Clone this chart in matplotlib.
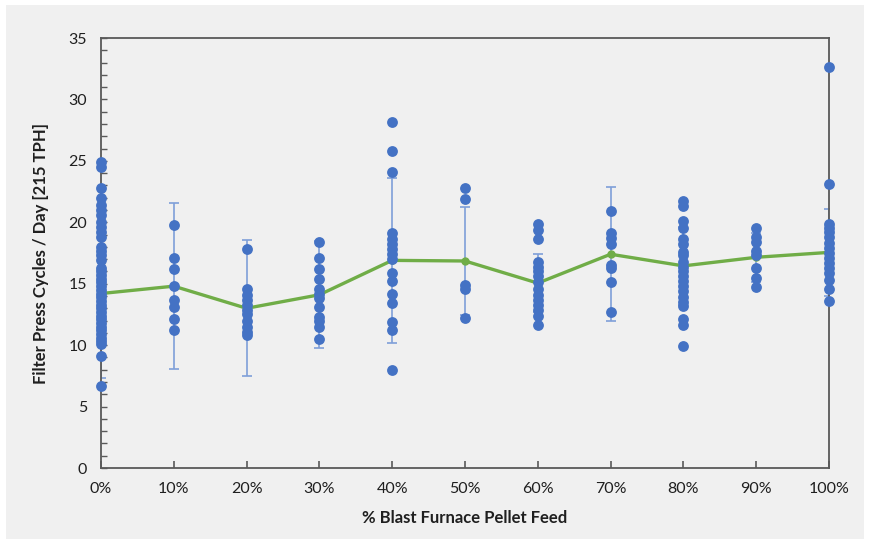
import matplotlib
matplotlib.use("Agg")
import matplotlib.pyplot as plt
from matplotlib.patches import Rectangle
from matplotlib.ticker import MultipleLocator

# ---- data ----
feed_pct = [0, 10, 20, 30, 40, 50, 60, 70, 80, 90, 100]
tick_labels = ["0%", "10%", "20%", "30%", "40%", "50%", "60%", "70%", "80%", "90%", "100%"]
mean_cycles = [14.2, 14.8, 13.0, 14.1, 16.9, 16.85, 15.05, 17.4, 16.45, 17.15, 17.55]
err_cycles = [6.84, 6.73, 5.53, 4.37, 6.74, 4.42, 2.39, 5.47, 3.2, 2.0, 3.53]

pts_0 = [24.9, 24.5, 22.8, 22.0, 21.4, 21.0, 20.6, 20.0, 19.6, 19.2, 18.8, 18.0, 17.7,
         17.3, 16.9, 16.3, 16.0, 15.7, 15.4, 15.1, 14.8, 14.5, 14.2, 13.9, 13.6, 13.3,
         13.0, 12.7, 12.4, 12.1, 11.8, 11.5, 11.2, 10.9, 10.6, 10.3, 10.1, 9.1, 6.7]
pts_10 = [19.8, 17.1, 16.2, 14.8, 13.7, 13.1, 12.1, 11.2]
pts_20 = [17.8, 14.6, 14.1, 13.7, 13.3, 12.9, 12.5, 12.0, 11.5, 11.1, 10.8]
pts_30 = [18.4, 17.1, 16.2, 15.4, 14.6, 14.2, 13.8, 13.1, 12.3, 12.0, 11.5, 10.5]
pts_40 = [28.2, 25.8, 24.1, 19.1, 18.6, 18.2, 17.8, 17.4, 17.0, 15.9, 15.2, 14.2,
          13.4, 11.9, 11.2, 8.0]
pts_50 = [22.8, 21.9, 14.9, 14.6, 12.2]
pts_60 = [19.9, 19.4, 18.6, 16.8, 16.4, 16.0, 15.6, 15.1, 14.6, 14.1, 13.7, 13.3,
          12.9, 12.4, 11.6]
pts_70 = [20.9, 19.1, 18.7, 18.2, 16.5, 16.3, 15.1, 12.7]
pts_80 = [21.7, 21.3, 20.1, 19.5, 18.6, 18.2, 17.6, 17.3, 16.8, 16.4, 16.0, 15.6,
          15.2, 14.8, 14.4, 13.9, 13.5, 13.2, 12.1, 11.6, 9.9]
pts_90 = [19.5, 18.8, 18.4, 17.7, 17.3, 16.3, 15.5, 14.7]
pts_100 = [32.6, 23.1, 19.9, 19.5, 19.2, 18.8, 18.3, 17.9, 17.5, 17.1, 16.7, 16.3,
           15.9, 15.3, 14.6, 13.6]
all_pts = [pts_0, pts_10, pts_20, pts_30, pts_40, pts_50, pts_60, pts_70, pts_80,
           pts_90, pts_100]

# ---- style ----
BG = "#f0f0f0"
BLUE = "#4472c4"
ERR = "#7f9fd8"
GREEN = "#70ad47"
SPINE = "#595959"
TXT = "#1f1f1f"
FONT = ["Lato", "DejaVu Sans"]

plt.rcParams["font.family"] = FONT

fig = plt.figure(figsize=(8.69, 5.44), dpi=100)
fig.patch.set_facecolor("white")
fig.patches.append(Rectangle((6 / 869, 5 / 544), 858 / 869, 534 / 544,
                             transform=fig.transFigure, facecolor=BG,
                             edgecolor="none", zorder=-10))

ax = fig.add_axes([101 / 869, 1 - 468 / 544, 728 / 869, 430 / 544])
ax.set_facecolor(BG)

ax.errorbar(feed_pct, mean_cycles, yerr=err_cycles, fmt="none", ecolor=ERR,
            elinewidth=1.2, capsize=3.5, capthick=1.2, zorder=2)
ax.plot(feed_pct, mean_cycles, color=GREEN, lw=2.4, marker="o", markersize=5,
        zorder=3, solid_capstyle="round")
for x, ys in zip(feed_pct, all_pts):
    ax.plot([x] * len(ys), ys, linestyle="none", marker="o", markersize=7.8,
            color=BLUE, markeredgewidth=0, zorder=4, clip_on=False)

ax.set_xlim(0, 100)
ax.set_ylim(0, 35)
ax.set_xticks(feed_pct)
ax.set_xticklabels(tick_labels)
ax.yaxis.set_major_locator(MultipleLocator(5))
ax.yaxis.set_minor_locator(MultipleLocator(1))

for s in ax.spines.values():
    s.set_color(SPINE)
    s.set_linewidth(1.3)

ax.tick_params(axis="x", direction="in", length=5, width=1.2, color=SPINE,
               labelsize=11.5, labelcolor=TXT, pad=10)
ax.tick_params(axis="y", which="both", direction="in", length=4, width=1.0,
               color=SPINE, labelsize=11.5, labelcolor=TXT, pad=10)

ax.set_xlabel("% Blast Furnace Pellet Feed", fontsize=12, fontweight="bold",
              color=TXT, labelpad=10)
ax.set_ylabel("Filter Press Cycles / Day [215 TPH]", fontsize=12, fontweight="bold",
              color=TXT, labelpad=14)

fig.savefig("out.png", dpi=100, facecolor=fig.get_facecolor())
